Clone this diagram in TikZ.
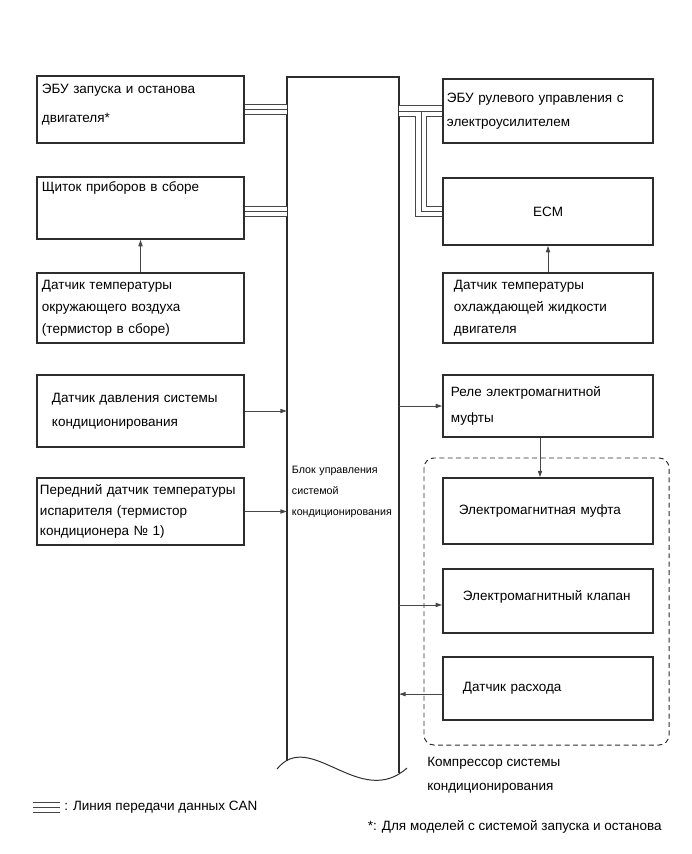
\documentclass[tikz,border=0pt]{standalone}
\usepackage{fontspec}
\setmainfont{Liberation Sans}
\definecolor{boxline}{RGB}{45,45,45}
\definecolor{wiregray}{RGB}{70,70,70}
\usetikzlibrary{arrows.meta,positioning}
\newcommand\fs[1]{\fontsize{9.6}{#1}\selectfont}

\begin{document}
\begin{tikzpicture}[x=0.025cm,y=-0.025cm,
    unit/.style={draw=boxline,line width=1.3pt,align=left,inner ysep=2pt,font=\fs{17}},
    lunit/.style={unit,minimum width=5.175cm},
    runit/.style={unit,minimum width=5.25cm},
    sig/.style={draw=wiregray,line width=0.6pt,-{Triangle[length=4.5pt,width=3pt]}},
    can/.style={draw=wiregray,line width=0.7pt,double=white,double distance=7pt},
    canmid/.style={draw=wiregray,line width=0.7pt}]
  \useasboundingbox (0,0) rectangle (691,854);

  % left column
  \node[lunit,minimum height=1.675cm,inner xsep=0.125cm,text width=4.925cm,
        font=\fs{21},text depth=30pt] (ebu) at (140.5,109.5)
    {ЭБУ запуска и останова\\двигателя*};
  \node[lunit,minimum height=1.55cm,inner xsep=0.125cm,text width=4.925cm,
        text depth=29.8pt] (meter) at (140.5,208) {Щиток приборов в сборе};
  \node[lunit,minimum height=1.75cm,inner xsep=0.125cm,text width=4.925cm,
        font=\fs{15.6}] (ambient) at (140.5,308)
    {Датчик температуры\\окружающего воздуха\\(термистор в сборе)};
  \node[lunit,minimum height=1.8cm,inner xsep=0.375cm,text width=4.425cm] (press) at (140.5,411)
    {Датчик давления системы\\кондиционирования};
  \node[lunit,minimum height=1.675cm,inner xsep=0.075cm,text width=5.025cm,
        font=\fs{14.5}] (evap) at (140.5,511.5)
    {Передний датчик температуры\\испарителя (термистор\\кондиционера № 1)};

  % A/C amplifier
  \node[minimum width=2.8cm,inner xsep=0.125cm,text width=2.55cm,align=left,
        font=\fontsize{7.6}{15.2}\selectfont] (acc) at (343,492)
    {Блок управления\\системой\\кондиционирования};
  \draw[boxline,line width=1.3pt] (287,761) -- (287,77) -- (399,77) -- (399,773);
  \draw[boxline,line width=0.7pt] (277,769) .. controls (310,728) and (360,810) .. (407,768);

  % right column
  \node[runit,minimum height=1.6cm,inner xsep=0.1cm,text width=5.05cm] (eps) at (548,111)
    {ЭБУ рулевого управления с\\электроусилителем};
  \node[runit,minimum height=1.675cm,align=center] (ecm) at (548,211.5) {ECM};
  \node[runit,minimum height=1.75cm,inner xsep=0.275cm,text width=4.7cm,
        font=\fs{15.6}] (coolant) at (548,308)
    {Датчик температуры\\охлаждающей жидкости\\двигателя};
  \node[runit,minimum height=1.55cm,inner xsep=0.2cm,text width=4.85cm,
        font=\fs{19}] (relay) at (548,406)
    {Реле электромагнитной\\муфты};
  \node[runit,minimum height=1.65cm,inner xsep=0.4cm,text width=4.45cm] (clutch) at (548,511)
    {Электромагнитная муфта};
  \node[runit,minimum height=1.6cm,inner xsep=0.5cm,text width=4.25cm,
        text depth=8.5pt] (valve) at (548,601) {Электромагнитный клапан};
  \node[runit,minimum height=1.575cm,inner xsep=0.5cm,text width=4.25cm] (flow) at (548,688.5)
    {Датчик расхода};

  % compressor
  \draw[boxline,line width=0.7pt,dash pattern=on 3.5pt off 2.5pt,rounded corners=7pt]
    (424,458) rectangle (669,745);
  \node[anchor=north west,align=left,inner sep=0pt,font=\fs{17}] (comp) at (427,757)
    {Компрессор системы\\кондиционирования};

  % signal lines
  \draw[sig] (ambient.north) -- (meter.south);
  \draw[sig] (coolant.north) -- (ecm.south);
  \draw[sig] (press.east) -- (press.east -| acc.west);
  \draw[sig] (evap.east) -- (evap.east -| acc.west);
  \draw[sig] (relay.west -| acc.east) -- (relay.west);
  \draw[sig] ([xshift=-0.2cm]relay.south) -- ([xshift=-0.2cm]clutch.north);
  \draw[sig] ([yshift=-2.8pt]valve.west -| acc.east) -- ([yshift=-2.8pt]valve.west);
  \draw[sig] ([yshift=-4pt]flow.west) -- ([yshift=-4pt]flow.west -| acc.east);

  % CAN
  \draw[can] (ebu.east) -- (ebu.east -| acc.west);
  \draw[canmid] (ebu.east) -- (ebu.east -| acc.west);
  \draw[can] ([yshift=-2.5pt]meter.east) -- ([yshift=-2.5pt]meter.east -| acc.west);
  \draw[canmid] ([yshift=-2.5pt]meter.east) -- ([yshift=-2.5pt]meter.east -| acc.west);
  \draw[can] (eps.west -| acc.east) -- (eps.west);
  \draw[can] (eps.west -| acc.east) -- ++(22,0) |- (ecm.west);
  \draw[white,line width=7pt] (eps.west -| acc.east) -- (eps.west);
  \draw[canmid] (eps.west -| acc.east) -- (eps.west);
  \draw[canmid] (eps.west -| acc.east) -- ++(22,0) |- (ecm.west);

  % legend
  \coordinate (lega) at (33,807.5);
  \coordinate (legb) at (60,807.5);
  \draw[can] (lega) -- (legb);
  \draw[canmid] (lega) -- (legb);
  \node[anchor=west,inner sep=0pt,font=\fs{12}] (legend) at (64,807) {: Линия передачи данных CAN};
  \node[anchor=east,inner sep=0pt,font=\fs{12}] (note) at (662,827)
    {*: Для моделей с системой запуска и останова};
\end{tikzpicture}
\end{document}
